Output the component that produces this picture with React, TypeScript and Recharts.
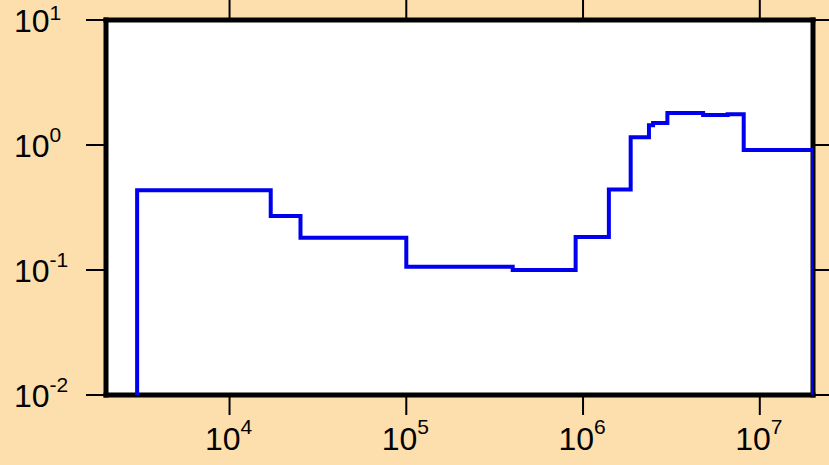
import React from "react";
import { LineChart, Line, XAxis, YAxis, CartesianGrid } from "recharts";

const stepX = [3000, 3000, 17100, 25200, 100000, 400000, 908000, 1400000, 1860000, 2360000, 2490000, 3000000, 4780000, 6580000, 8110000, 20000000];
const stepY = [0.01, 0.435, 0.27, 0.181, 0.106, 0.1, 0.184, 0.44, 1.155, 1.44, 1.5, 1.8, 1.74, 1.76, 0.912, 0.01];
const xTicks = [1e4, 1e5, 1e6, 1e7];
const yTicks = [0.01, 0.1, 1, 10];
const xDomain = [2000, 2e7];
const yDomain = [0.01, 10];

const data = stepX.map((x, i) => ({ x, y: stepY[i] }));

const FONT = "Liberation Sans, Arial, sans-serif";

const expOf = (v: number) => Math.round(Math.log10(v));

const YTick = (props: any) => {
  const { y, payload } = props;
  const e = expOf(payload.value);
  const top = e === 1;
  return (
    <text x={14} y={y + 12} fontSize={32} fill="#000" fontFamily={FONT}>
      10
      <tspan dy={top ? -12 : -15} fontSize={21}>
        {e}
      </tspan>
    </text>
  );
};

const XTick = (props: any) => {
  const { x, payload } = props;
  const e = expOf(payload.value);
  return (
    <text x={x - 1} y={450} fontSize={32} fill="#000" fontFamily={FONT} textAnchor="middle">
      10
      <tspan dy={-16} fontSize={21}>
        {e}
      </tspan>
    </text>
  );
};

const Empty = () => <g />;

const frame = { stroke: "#000", strokeWidth: 5, strokeLinecap: "square" as const };
const tickLn = { stroke: "#000", strokeWidth: 2 };

export default function App() {
  return (
    <div
      style={{
        position: "absolute",
        left: 0,
        top: 0,
        width: 829,
        height: 465,
        background: "#FDDEAD",
      }}
    >
      <LineChart width={829} height={465} data={data} margin={{ top: 0, right: 0, bottom: 0, left: 0 }}>
        <CartesianGrid fill="#ffffff" horizontal={false} vertical={false} stroke="none" />
        <XAxis
          dataKey="x"
          type="number"
          scale="log"
          domain={xDomain}
          ticks={xTicks}
          allowDataOverflow
          height={70}
          tickSize={20}
          axisLine={frame}
          tickLine={tickLn}
          tick={<XTick />}
          interval={0}
        />
        <XAxis
          xAxisId="top"
          orientation="top"
          dataKey="x"
          type="number"
          scale="log"
          domain={xDomain}
          ticks={xTicks}
          allowDataOverflow
          height={20}
          tickSize={20}
          axisLine={frame}
          tickLine={tickLn}
          tick={<Empty />}
          interval={0}
        />
        <YAxis
          type="number"
          scale="log"
          domain={yDomain}
          ticks={yTicks}
          allowDataOverflow
          width={106}
          tickSize={20}
          axisLine={frame}
          tickLine={tickLn}
          tick={<YTick />}
          interval={0}
        />
        <YAxis
          yAxisId="right"
          orientation="right"
          type="number"
          scale="log"
          domain={yDomain}
          ticks={yTicks}
          allowDataOverflow
          width={16}
          tickSize={16}
          axisLine={frame}
          tickLine={tickLn}
          tick={<Empty />}
          interval={0}
        />
        <Line
          dataKey="y"
          type="stepAfter"
          stroke="#0000EE"
          strokeWidth={4}
          dot={false}
          activeDot={false}
          isAnimationActive={false}
          {...({ zIndex: 600 } as any)}
        />
      </LineChart>
    </div>
  );
}
